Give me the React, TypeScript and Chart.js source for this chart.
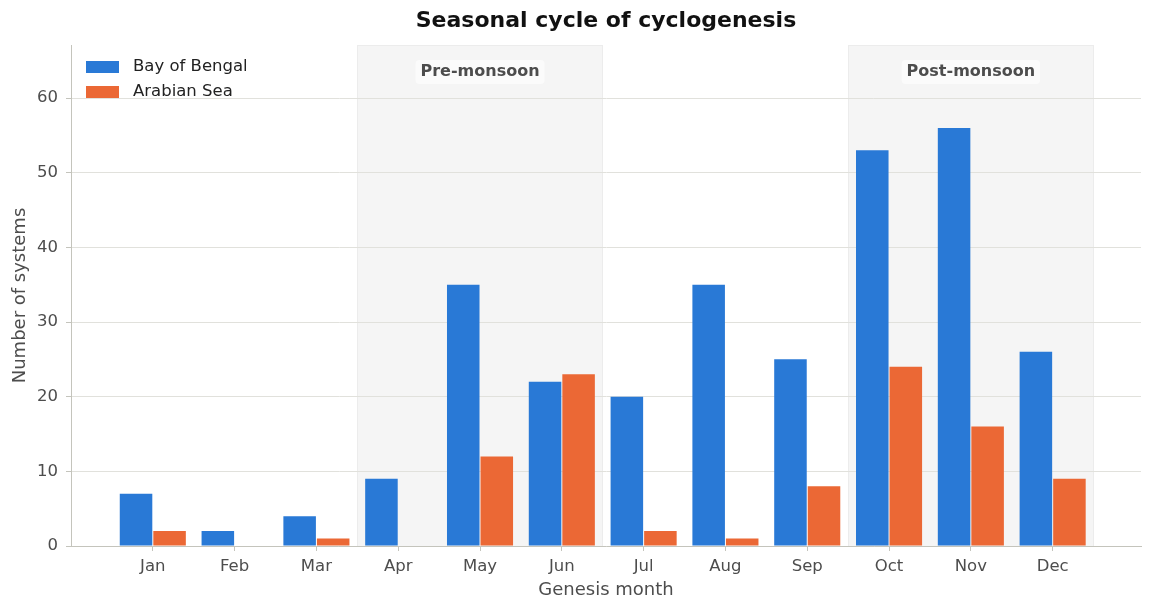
import { useEffect, useRef } from "react";
import { Chart, registerables } from "chart.js";

Chart.register(...registerables);

// Monthly counts of cyclone genesis in the North Indian Ocean basins
const months = ["Jan", "Feb", "Mar", "Apr", "May", "Jun", "Jul", "Aug", "Sep", "Oct", "Nov", "Dec"];
const bayOfBengal = [7, 2, 4, 9, 35, 22, 20, 35, 25, 53, 56, 26];
const arabianSea = [2, 0, 1, 0, 12, 23, 2, 1, 8, 24, 16, 9];
const yTicks = [0, 10, 20, 30, 40, 50, 60];

// Shaded seasons, in month-index units
const seasonNames = ["Pre-monsoon", "Post-monsoon"];
const seasonStart = [2.5, 8.5];
const seasonEnd = [5.5, 11.5];

const FONT = "'DejaVu Sans', 'Noto Sans', sans-serif";
const BLUE = "#2979d6";
const ORANGE = "#eb6835";
const SPINE = "#c4c4bc";
const GRID = "#e1e1dc";
const TEXT = "#4d4d4d";

const seasonBands = {
  id: "seasonBands",
  beforeDraw(chart: any) {
    const { ctx, chartArea, scales } = chart;
    const x = scales.x;
    ctx.save();
    seasonNames.forEach((_, i) => {
      const x0 = x.getPixelForValue(seasonStart[i]);
      const x1 = x.getPixelForValue(seasonEnd[i]);
      ctx.fillStyle = "#f5f5f5";
      ctx.fillRect(x0, chartArea.top, x1 - x0, chartArea.bottom - chartArea.top);
      ctx.strokeStyle = "#ececec";
      ctx.lineWidth = 1;
      ctx.strokeRect(Math.round(x0) + 0.5, chartArea.top + 0.5, Math.round(x1 - x0), chartArea.bottom - chartArea.top);
    });
    ctx.restore();
  },
};

const annotations = {
  id: "annotations",
  afterDraw(chart: any) {
    const { ctx, chartArea, scales } = chart;
    const x = scales.x;
    const cx = (chartArea.left + chartArea.right) / 2;
    ctx.save();

    // Title
    ctx.fillStyle = "#111";
    ctx.font = `bold 22px ${FONT}`;
    ctx.textAlign = "center";
    ctx.textBaseline = "middle";
    ctx.fillText("Seasonal cycle of cyclogenesis", cx, 21);

    // Axis titles
    ctx.fillStyle = TEXT;
    ctx.font = `18px ${FONT}`;
    ctx.fillText("Genesis month", cx, 590);
    ctx.save();
    ctx.translate(20, (chartArea.top + chartArea.bottom) / 2);
    ctx.rotate(-Math.PI / 2);
    ctx.fillText("Number of systems", 0, 0);
    ctx.restore();

    // Season labels
    ctx.font = `bold 16px ${FONT}`;
    seasonNames.forEach((name, i) => {
      const mid = (x.getPixelForValue(seasonStart[i]) + x.getPixelForValue(seasonEnd[i])) / 2;
      const w = ctx.measureText(name).width + 10;
      const h = 24;
      const top = 60;
      ctx.fillStyle = "rgba(255,255,255,0.6)";
      ctx.beginPath();
      ctx.roundRect(mid - w / 2, top, w, h, 4);
      ctx.fill();
      ctx.fillStyle = TEXT;
      ctx.fillText(name, mid, top + h / 2);
    });

    // Legend
    ctx.font = `16.5px ${FONT}`;
    ctx.textAlign = "left";
    chart.data.datasets.forEach((ds: any, i: number) => {
      const y = 67 + i * 25;
      ctx.fillStyle = ds.backgroundColor;
      ctx.fillRect(86, y - 6, 33, 12);
      ctx.fillStyle = "#222";
      ctx.fillText(ds.label, 133, y);
    });

    ctx.restore();
  },
};

export default function App() {
  const canvasRef = useRef<HTMLCanvasElement | null>(null);

  useEffect(() => {
    if (!canvasRef.current) return;
    const chart = new Chart(canvasRef.current, {
      type: "bar",
      data: {
        datasets: [
          {
            label: "Bay of Bengal",
            data: bayOfBengal.map((v, i) => ({ x: i, y: v })),
            backgroundColor: BLUE,
            borderWidth: 0,
          },
          {
            label: "Arabian Sea",
            data: arabianSea.map((v, i) => ({ x: i, y: v })),
            backgroundColor: ORANGE,
            borderWidth: 0,
          },
        ],
      },
      plugins: [seasonBands, annotations],
      options: {
        responsive: false,
        animation: false,
        devicePixelRatio: 1,
        datasets: { bar: { barPercentage: 0.97, categoryPercentage: 0.82 } },
        layout: { padding: { top: 45, right: 12, left: 0, bottom: 0 } },
        plugins: {
          legend: { display: false },
          title: { display: false },
          tooltip: { enabled: false },
        },
        scales: {
          x: {
            type: "linear",
            offset: false,
            min: -1,
            max: 12.08,
            afterBuildTicks: (axis: any) => {
              axis.ticks = months.map((_, i) => ({ value: i }));
            },
            afterFit: (axis: any) => {
              axis.height = 67;
            },
            ticks: {
              autoSkip: false,
              maxRotation: 0,
              padding: 6,
              color: TEXT,
              font: { family: FONT, size: 16.5 },
              callback: (v: any) => months[v as number] ?? "",
            },
            grid: {
              offset: false,
              drawOnChartArea: false,
              drawTicks: true,
              tickLength: 5,
              tickColor: SPINE,
            },
            border: { display: true, color: SPINE, width: 1 },
          },
          y: {
            type: "linear",
            min: 0,
            max: 67.1,
            afterBuildTicks: (axis: any) => {
              axis.ticks = yTicks.map((v) => ({ value: v }));
            },
            afterFit: (axis: any) => {
              axis.width = 71;
            },
            ticks: {
              padding: 8,
              color: TEXT,
              font: { family: FONT, size: 16.5 },
            },
            grid: {
              color: GRID,
              lineWidth: 1,
              tickLength: 5,
              tickColor: SPINE,
            },
            border: { display: true, color: SPINE, width: 1 },
          },
        },
      },
    });
    return () => chart.destroy();
  }, []);

  return (
    <div style={{ position: "fixed", left: 0, top: 0, width: 1153, height: 613, background: "#fff" }}>
      <canvas ref={canvasRef} width={1153} height={613} />
    </div>
  );
}
